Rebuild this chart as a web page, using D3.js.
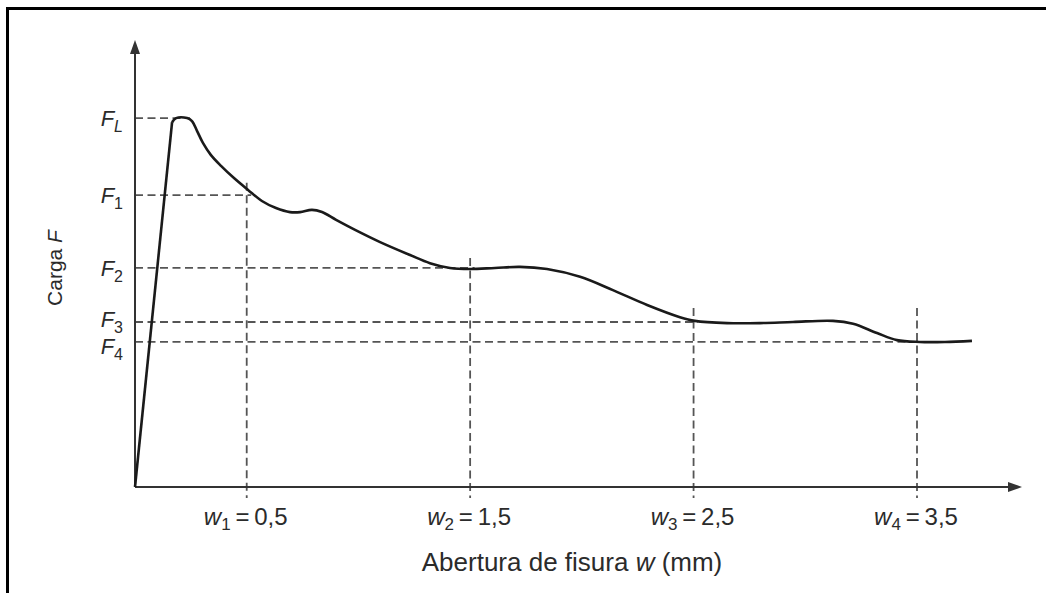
<!DOCTYPE html>
<html>
<head>
<meta charset="utf-8">
<script src="https://cdn.jsdelivr.net/npm/d3@7"></script>
<style>
  body { margin: 0; background: #fff; }
  svg { display: block; font-family: "Liberation Sans", Arial, sans-serif; }
</style>
</head>
<body>
<div id="drawing_region"></div>
<script>
// crack opening w (mm) and load F (relative to F_L)
const crack_w = [0, 0.166, 0.184, 0.233, 0.255, 0.278, 0.304, 0.340, 0.385, 0.443,
                 0.506, 0.568, 0.631, 0.694, 0.739, 0.792, 0.837, 0.900, 0.985, 1.097,
                 1.231, 1.320, 1.410, 1.499, 1.611, 1.723, 1.844, 1.992, 2.139, 2.292,
                 2.439, 2.506, 2.650, 2.797, 2.945, 3.124, 3.214, 3.321, 3.410, 3.513,
                 3.625, 3.746];
const load_f  = [0, 0.986, 0.997, 0.997, 0.989, 0.962, 0.930, 0.897, 0.868, 0.835,
                 0.803, 0.773, 0.754, 0.743, 0.743, 0.749, 0.743, 0.722, 0.695, 0.662,
                 0.627, 0.605, 0.592, 0.589, 0.592, 0.595, 0.589, 0.568, 0.532, 0.492,
                 0.459, 0.449, 0.443, 0.443, 0.446, 0.449, 0.441, 0.416, 0.397, 0.392,
                 0.392, 0.395];

// load levels F_L, F_1 ... F_4 and how far their guide lines run (w)
const level_names = ["L", "1", "2", "3", "4"];
const level_f     = [0.997, 0.789, 0.592, 0.446, 0.392];
const level_w_end = [0.246, 0.52, 1.52, 2.52, 3.5];

// crack opening ticks w_1 ... w_4 and the top of their guide lines (F)
const tick_w      = [0.5, 1.5, 2.5, 3.5];
const tick_names  = ["1", "2", "3", "4"];
const tick_labels = ["0,5", "1,5", "2,5", "3,5"];
const tick_f_top  = [0.822, 0.619, 0.484, 0.484];

const width = 1046, height = 593;
const ox = 135, oy = 487;

const svg = d3.select('#drawing_region')
    .append('svg')
    .attr('width', width)
    .attr('height', height);

svg.append('rect').attr('width', width).attr('height', height).attr('fill', '#fff');

// frame
svg.append('path')
    .attr('d', `M7.5,${height} V8.5 H${width}`)
    .attr('fill', 'none')
    .attr('stroke', '#000')
    .attr('stroke-width', 3);

const xscale = d3.scaleLinear().domain([0, 3.5]).range([ox, 917]);
const yscale = d3.scaleLinear().domain([0, 1]).range([oy, 117]);

const dash = { stroke: '#555', width: 1.8, array: '8,4.5' };

// horizontal guide lines
svg.append('g').selectAll('line')
    .data(level_f)
    .join('line')
    .attr('x1', ox)
    .attr('x2', (d, i) => xscale(level_w_end[i]))
    .attr('y1', d => yscale(d))
    .attr('y2', d => yscale(d))
    .attr('stroke', dash.stroke)
    .attr('stroke-width', dash.width)
    .attr('stroke-dasharray', dash.array);

// vertical guide lines (run past the axis as ticks)
svg.append('g').selectAll('line')
    .data(tick_w)
    .join('line')
    .attr('x1', d => xscale(d))
    .attr('x2', d => xscale(d))
    .attr('y1', (d, i) => yscale(tick_f_top[i]))
    .attr('y2', oy + 11)
    .attr('stroke', dash.stroke)
    .attr('stroke-width', dash.width)
    .attr('stroke-dasharray', dash.array);

// axes with arrow heads
const axis = svg.append('g').attr('stroke', '#333').attr('fill', '#333');
axis.append('line')
    .attr('x1', ox).attr('y1', oy).attr('x2', 1012).attr('y2', oy)
    .attr('stroke-width', 2);
axis.append('line')
    .attr('x1', ox).attr('y1', oy).attr('x2', ox).attr('y2', 50)
    .attr('stroke-width', 2);
axis.append('path')
    .attr('d', `M1022,${oy} L1008,${oy - 5} L1008,${oy + 5} Z`)
    .attr('stroke', 'none');
axis.append('path')
    .attr('d', `M${ox},40 L${ox - 5},54 L${ox + 5},54 Z`)
    .attr('stroke', 'none');

// the load - crack opening curve
const points = crack_w.map((w, i) => [w, load_f[i]]);
const line_rise = d3.line()
    .x(d => xscale(d[0]))
    .y(d => yscale(d[1]));
const line_soft = d3.line()
    .x(d => xscale(d[0]))
    .y(d => yscale(d[1]))
    .curve(d3.curveCatmullRom.alpha(0.5));

svg.append('path')
    .attr('d', line_rise(points.slice(0, 2)))
    .attr('fill', 'none')
    .attr('stroke', '#1a1a1a')
    .attr('stroke-width', 2.6);
svg.append('path')
    .attr('d', line_soft(points.slice(1)))
    .attr('fill', 'none')
    .attr('stroke', '#1a1a1a')
    .attr('stroke-width', 2.6)
    .attr('stroke-linejoin', 'round');

// F labels
const nudge = { '3': -3, '4': 4 };
const flabels = svg.append('g')
    .attr('fill', '#2b2b2b')
    .selectAll('text')
    .data(level_f)
    .join('text')
    .attr('x', 123)
    .attr('y', (d, i) => yscale(d) + 8 + (nudge[level_names[i]] || 0))
    .attr('text-anchor', 'end')
    .attr('font-size', 22);
flabels.append('tspan').attr('font-style', 'italic').text('F');
flabels.append('tspan')
    .attr('font-size', 16)
    .attr('font-style', (d, i) => level_names[i] === 'L' ? 'italic' : 'normal')
    .attr('dy', 6)
    .text((d, i) => level_names[i]);

// w labels
const wlabels = svg.append('g')
    .attr('fill', '#2b2b2b')
    .selectAll('text')
    .data(tick_w)
    .join('text')
    .attr('x', d => xscale(d) - 1)
    .attr('y', 525)
    .attr('text-anchor', 'middle')
    .attr('font-size', 24);
wlabels.append('tspan').attr('font-style', 'italic').text('w');
wlabels.append('tspan').attr('font-size', 17).attr('dy', 5)
    .text((d, i) => tick_names[i]);
wlabels.append('tspan').attr('dy', -5)
    .text((d, i) => '\u2009=\u2009' + tick_labels[i]);

// axis titles
const xtitle = svg.append('text')
    .attr('x', 572)
    .attr('y', 571)
    .attr('text-anchor', 'middle')
    .attr('font-size', 26)
    .attr('fill', '#2b2b2b');
xtitle.append('tspan').text('Abertura de fisura ');
xtitle.append('tspan').attr('font-style', 'italic').text('w');
xtitle.append('tspan').text(' (mm)');

const ytitle = svg.append('text')
    .attr('transform', 'translate(62, 268) rotate(-90)')
    .attr('text-anchor', 'middle')
    .attr('font-size', 21)
    .attr('fill', '#2b2b2b');
ytitle.append('tspan').text('Carga ');
ytitle.append('tspan').attr('font-style', 'italic').text('F');
</script>
</body>
</html>
